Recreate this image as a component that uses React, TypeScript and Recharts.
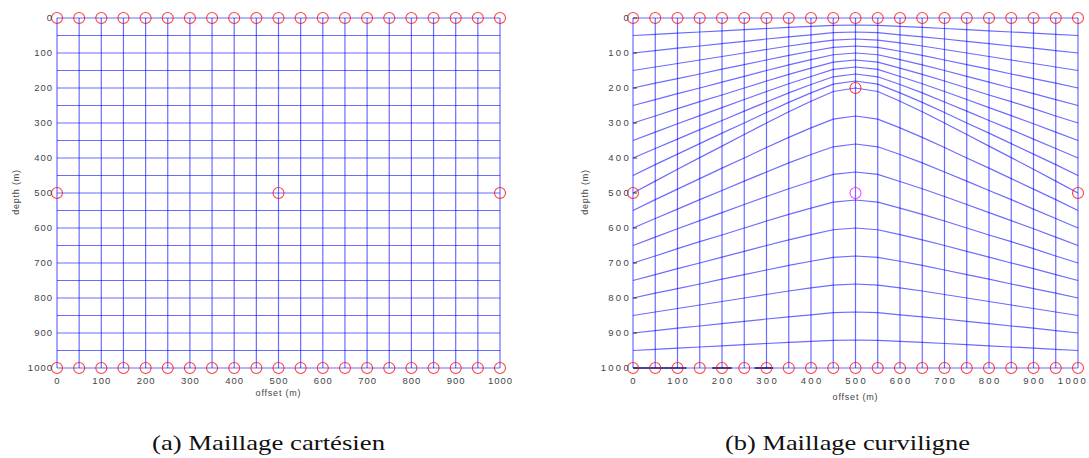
import React from "react";
import { ScatterChart, Scatter, XAxis, YAxis } from "recharts";

// mesh node offsets (m), shared by both panels
const offsets = [0, 50, 100, 150, 200, 250, 300, 350, 400, 450, 500, 550, 600, 650, 700, 750, 800, 850, 900, 950, 1000];
// cartesian mesh: flat layers every 50 m
const layerDepthsA = [0, 50, 100, 150, 200, 250, 300, 350, 400, 450, 500, 550, 600, 650, 700, 750, 800, 850, 900, 950, 1000];
const axisTicks = [0, 100, 200, 300, 400, 500, 600, 700, 800, 900, 1000];

// curvilinear mesh: depth (m) of each layer line at every offset above
const topB = [0, 0, 0, 0, 0, 0, 0, 0, 0, 0, 0, 0, 0, 0, 0, 0, 0, 0, 0, 0, 0];
const upperLinesB = [
  [50, 47, 43, 40, 37, 33, 30, 27, 24, 21, 20, 21, 24, 27, 30, 33, 37, 40, 43, 47, 50],
  [100, 93, 86, 80, 73, 67, 60, 54, 48, 42, 40, 42, 48, 54, 60, 67, 73, 80, 86, 93, 100],
  [150, 140, 130, 120, 110, 100, 90, 80, 71, 63, 60, 63, 71, 80, 90, 100, 110, 120, 130, 140, 150],
  [200, 186, 173, 160, 146, 133, 120, 107, 95, 84, 80, 84, 95, 107, 120, 133, 146, 160, 173, 186, 200],
  [250, 233, 216, 200, 183, 167, 150, 134, 119, 105, 100, 105, 119, 134, 150, 167, 183, 200, 216, 233, 250],
  [300, 280, 259, 239, 220, 200, 180, 161, 143, 126, 120, 126, 143, 161, 180, 200, 220, 239, 259, 280, 300],
  [350, 326, 302, 279, 256, 233, 210, 188, 167, 147, 140, 147, 167, 188, 210, 233, 256, 279, 302, 326, 350],
  [400, 373, 346, 319, 293, 266, 240, 214, 190, 168, 160, 168, 190, 214, 240, 266, 293, 319, 346, 373, 400],
  [450, 419, 389, 359, 329, 300, 270, 241, 214, 189, 180, 189, 214, 241, 270, 300, 329, 359, 389, 419, 450],
];
const interfaceB = [500, 466, 432, 399, 366, 333, 300, 268, 238, 210, 200, 210, 238, 268, 300, 333, 366, 399, 432, 466, 500];
const lowerLinesB = [
  [550, 519, 489, 459, 429, 400, 370, 341, 314, 289, 280, 289, 314, 341, 370, 400, 429, 459, 489, 519, 550],
  [600, 573, 546, 519, 493, 466, 440, 414, 390, 368, 360, 368, 390, 414, 440, 466, 493, 519, 546, 573, 600],
  [650, 626, 602, 579, 556, 533, 510, 488, 467, 447, 440, 447, 467, 488, 510, 533, 556, 579, 602, 626, 650],
  [700, 680, 659, 639, 620, 600, 580, 561, 543, 526, 520, 526, 543, 561, 580, 600, 620, 639, 659, 680, 700],
  [750, 733, 716, 700, 683, 667, 650, 634, 619, 605, 600, 605, 619, 634, 650, 667, 683, 700, 716, 733, 750],
  [800, 786, 773, 760, 746, 733, 720, 707, 695, 684, 680, 684, 695, 707, 720, 733, 746, 760, 773, 786, 800],
  [850, 840, 830, 820, 810, 800, 790, 780, 771, 763, 760, 763, 771, 780, 790, 800, 810, 820, 830, 840, 850],
  [900, 893, 886, 880, 873, 867, 860, 854, 848, 842, 840, 842, 848, 854, 860, 867, 873, 880, 886, 893, 900],
  [950, 947, 943, 940, 937, 933, 930, 927, 924, 921, 920, 921, 924, 927, 930, 933, 937, 940, 943, 947, 950],
];
const bottomB = [1000, 1000, 1000, 1000, 1000, 1000, 1000, 1000, 1000, 1000, 1000, 1000, 1000, 1000, 1000, 1000, 1000, 1000, 1000, 1000, 1000];
// darker overdrawn pieces of the bottom edge in panel b (offset ranges)
const darkBottomB = [[0, 120], [178, 222], [273, 315]];

// marked nodes (circles)
const sourcesA = [{ x: 0, d: 500 }, { x: 500, d: 500 }, { x: 1000, d: 500 }];
const sourcesB = [{ x: 0, d: 500 }, { x: 1000, d: 500 }, { x: 500, d: 200 }];
const pivotB = [{ x: 500, d: 500 }];

const toPts = (depths: number[]) => depths.map((d, i) => ({ x: offsets[i], d }));

const hLinesA = layerDepthsA.map((d) => offsets.map((x) => ({ x, d })));
const hLinesB = [topB, ...upperLinesB, interfaceB, ...lowerLinesB, bottomB].map(toPts);
const vLines = offsets.map((x) => [{ x, d: 0 }, { x, d: 1000 }]);
const topRow = offsets.map((x) => ({ x, d: 0 }));
const bottomRow = offsets.map((x) => ({ x, d: 1000 }));
const darkSegsB = darkBottomB.map(([a, b]) => [{ x: a, d: 1000 }, { x: b, d: 1000 }]);

const meshLine = { stroke: "#0000ff", strokeOpacity: 0.58, strokeWidth: 1.2 };
const darkLine = { stroke: "#000070", strokeOpacity: 0.85, strokeWidth: 1.6 };
const tickFont = "'Liberation Sans', Arial, sans-serif";

const noDot = () => <g />;
const ring = (color: string) => (p: any) => (
  <circle cx={p.cx} cy={p.cy} r={5.5} fill="none" stroke={color} strokeOpacity={0.75} strokeWidth={1.1} />
);

function Panel({ left, width, yAxisW, right, hLines, extraSegs, circles, pivot, spacing, inwardTicks, yLabelX, xLabelY }: any) {
  const plotX0 = yAxisW;
  const plotX1 = width - right;
  const mid = (plotX0 + plotX1) / 2;

  const yTick = (p: any) => (
    <g>
      <text x={p.x} y={p.y} dy="0.35em" textAnchor="end" fontSize={9.5} fill="#444" fontFamily={tickFont} letterSpacing={spacing}>
        {p.payload.value}
      </text>
      {inwardTicks && <line x1={plotX0} x2={plotX0 + 4} y1={p.y} y2={p.y} stroke="#333" strokeWidth={1} />}
    </g>
  );
  const xTick = (p: any) => (
    <text
      x={Math.min(p.x + spacing / 2, width - 16)}
      y={p.y}
      dy="0.71em"
      textAnchor="middle"
      fontSize={9.5}
      fill="#444"
      fontFamily={tickFont}
      letterSpacing={spacing}
    >
      {p.payload.value}
    </text>
  );

  return (
    <div style={{ position: "absolute", left, top: 0 }}>
      <ScatterChart width={width} height={420} margin={{ top: 18, right, bottom: 22, left: 0 }}>
        <XAxis
          type="number"
          dataKey="x"
          domain={[0, 1000]}
          ticks={axisTicks}
          interval={0}
          axisLine={false}
          tickLine={false}
          tickSize={0}
          tickMargin={9}
          height={30}
          tick={xTick}
          label={() => (
            <text x={mid} y={xLabelY} textAnchor="middle" fontSize={9} fill="#444" fontFamily={tickFont} letterSpacing={0.8}>
              offset (m)
            </text>
          )}
        />
        <YAxis
          type="number"
          dataKey="d"
          domain={[0, 1000]}
          reversed
          ticks={axisTicks}
          interval={0}
          axisLine={false}
          tickLine={false}
          tickSize={0}
          tickMargin={spacing > 1.5 ? 2 : 4}
          width={yAxisW}
          tick={yTick}
          label={() => (
            <text
              x={yLabelX}
              y={192}
              textAnchor="middle"
              dominantBaseline="central"
              fontSize={9}
              fill="#444"
              fontFamily={tickFont}
              letterSpacing={0.8}
              transform={`rotate(-90 ${yLabelX} 192)`}
            >
              depth (m)
            </text>
          )}
        />
        {hLines.map((pts: any, i: number) => (
          <Scatter key={"h" + i} data={pts} line={meshLine} shape={noDot} isAnimationActive={false} />
        ))}
        {vLines.map((pts, i) => (
          <Scatter key={"v" + i} data={pts} line={meshLine} shape={noDot} isAnimationActive={false} />
        ))}
        {(extraSegs || []).map((pts: any, i: number) => (
          <Scatter key={"s" + i} data={pts} line={darkLine} shape={noDot} isAnimationActive={false} />
        ))}
        <Scatter data={topRow} shape={ring("#ff0000")} isAnimationActive={false} />
        <Scatter data={bottomRow} shape={ring("#ff0000")} isAnimationActive={false} />
        <Scatter data={circles} shape={ring("#ff0000")} isAnimationActive={false} />
        {pivot && <Scatter data={pivot} shape={ring("#ff00ff")} isAnimationActive={false} />}
      </ScatterChart>
    </div>
  );
}

export default function App() {
  const capFont = "'Liberation Serif', 'Times New Roman', serif";
  return (
    <div style={{ position: "absolute", left: 0, top: 0, width: 1089, height: 458, background: "#fff", overflow: "hidden" }}>
      <Panel
        left={0}
        width={520}
        yAxisW={57}
        right={20}
        hLines={hLinesA}
        circles={sourcesA}
        spacing={1}
        inwardTicks={false}
        yLabelX={16}
        xLabelY={396}
      />
      <Panel
        left={560}
        width={529}
        yAxisW={73}
        right={11}
        hLines={hLinesB}
        extraSegs={darkSegsB}
        circles={sourcesB}
        pivot={pivotB}
        spacing={2.3}
        inwardTicks={true}
        yLabelX={25}
        xLabelY={400}
      />
      <svg width={1089} height={48} style={{ position: "absolute", left: 0, top: 410 }}>
        <text x={152} y={40} fontSize={22} fill="#111" fontFamily={capFont} textLength={233} lengthAdjust="spacingAndGlyphs">
          (a) Maillage cartésien
        </text>
        <text x={725} y={40} fontSize={22} fill="#111" fontFamily={capFont} textLength={245} lengthAdjust="spacingAndGlyphs">
          (b) Maillage curviligne
        </text>
      </svg>
    </div>
  );
}
